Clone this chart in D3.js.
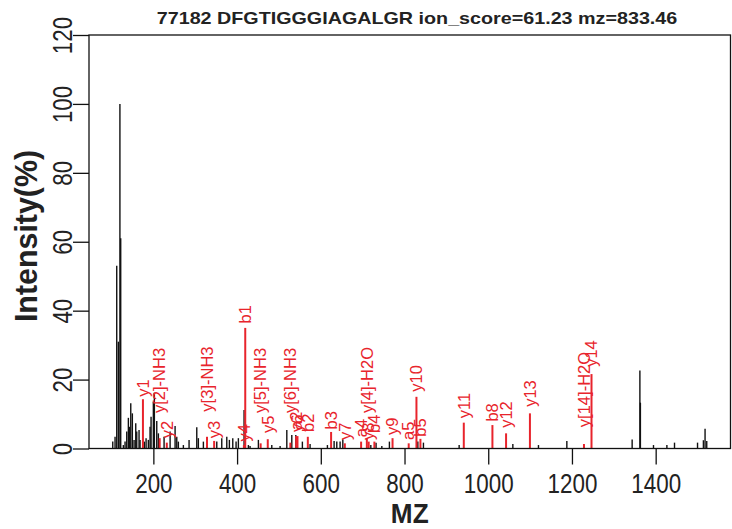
<!DOCTYPE html>
<html><head><meta charset="utf-8">
<script src="https://cdn.jsdelivr.net/npm/d3@7/dist/d3.min.js"></script>
<style>body{margin:0;background:#fff}svg{display:block}</style>
</head><body>
<svg id="chart" width="732" height="529"></svg>
<script>
// ---------- data ----------
const chartTitle = "77182 DFGTIGGGIAGALGR ion_score=61.23 mz=833.46";
const xTitle = "MZ";
const yTitle = "Intensity(%)";
const xTickValues = [200, 400, 600, 800, 1000, 1200, 1400];
const yTickValues = [0, 20, 40, 60, 80, 100, 120];

// unmatched peaks (black)
const peakMz = [103, 108.5, 112.5, 116.4, 120.1, 122.0, 128.3, 132.4, 136.4, 140.3, 142.7, 146.0, 149.8,
  153.9, 157.9, 160.3, 165.8, 168.2, 178.5, 182.6, 188.0, 192.1, 194.5, 200.0, 202.4, 208.1, 212.0,
  225.6, 240.0, 251.9, 255.9, 259.7, 271.7, 285.3, 303.7, 307.5, 319.5, 351.5, 363.4, 375.4, 381.6,
  389.7, 397.6, 403.1, 416.7, 427.0, 431.0, 450.9, 482.9, 502.8, 518.8, 530.7, 540.3, 556.0, 574.4,
  615.8, 631.8, 638.2, 646.1, 652.6, 719.5, 732.0, 745.8, 763.9, 831.8, 845.2, 930.5, 1058.8, 1120.0,
  1187.8, 1343.8, 1362.3, 1363.5, 1394.8, 1426.8, 1445.0, 1500.0, 1514.0, 1518.0, 1522.0];
const peakIntensity = [2.0, 3.4, 53, 31, 100, 61, 1.0, 2.0, 4.9, 8.9, 6.3, 13.1, 10.2,
  2.5, 7.3, 4.9, 5.4, 2.5, 2.0, 3.0, 2.5, 6.3, 9.2, 13.6, 16.2, 8.0, 4.4,
  3.4, 4.9, 6.5, 3.4, 2.0, 1.0, 2.5, 6.2, 3.0, 2.0, 2.0, 3.0, 3.4, 2.5,
  3.0, 2.0, 3.0, 11.2, 1.0, 0.7, 2.5, 1.0, 0.7, 5.4, 3.9, 3.9, 2.0, 1.3,
  1.0, 2.2, 2.0, 2.0, 2.7, 1.0, 1.7, 0.7, 2.0, 2.0, 1.7, 1.0, 1.3, 1.0,
  2.2, 2.6, 22.6, 13.3, 1.0, 1.0, 1.7, 1.7, 2.4, 5.7, 2.2];

// matched ions (red)
const ionLabel = ["y1", "y[2]-NH3", "y2", "y[3]-NH3", "y3", "b1", "y4", "y[5]-NH3", "y5", "y[6]-NH3",
  "y6", "a2", "b2", "b3", "y7", "a4", "y[4]-H2O", "y8", "b4", "y9", "a5", "y10", "b5", "y11", "b8",
  "y12", "y13", "y[14]-H2O", "y14"];
const ionMz = [175.1, 215.1, 232.1, 328.2, 345.2, 419.5, 416.3, 456.3, 473.3, 527.3,
  544.3, 541.0, 569.0, 624.6, 657.4, 696.3, 710.0, 714.4, 728.0, 771.4, 810.0, 828.5, 838.0, 941.6, 1010.0,
  1042.6, 1099.6, 1228.7, 1246.7];
const ionIntensity = [14.3, 3.0, 1.7, 3.4, 2.2, 35.0, 1.0, 1.5, 2.7, 1.7,
  3.6, 3.6, 3.4, 4.8, 1.5, 2.0, 3.0, 2.0, 2.0, 3.0, 1.5, 15.0, 2.8, 7.5, 6.8,
  4.4, 10.2, 1.3, 21.6];
// intensity level at which each label starts
const ionLabelAt = [15.0, 10.3, 3.0, 10.7, 3.0, 36.3, 2.0, 10.3, 4.5, 10.3,
  4.8, 5.4, 4.8, 5.5, 2.5, 3.3, 10.3, 2.5, 4.5, 3.9, 2.5, 16.5, 3.4, 8.8, 7.8,
  6.0, 12.1, 6.2, 23.7];

// ---------- layout ----------
const W = 732, H = 529;
const plot = {left: 89, right: 730.5, top: 35, bottom: 448.5};
const FONT = "'Liberation Sans', Arial, Helvetica, sans-serif";
const RED = "#e8242c";

const allMz = peakMz.concat(ionMz);
const mzMin = d3.min(allMz), mzMax = d3.max(allMz);
const pad = (mzMax - mzMin) * 0.04;
const x = d3.scaleLinear().domain([mzMin - pad, mzMax + pad]).range([plot.left, plot.right]);
const y = d3.scaleLinear().domain([0, 120]).range([plot.bottom, plot.top]);

const svg = d3.select("#chart");
svg.append("rect").attr("width", W).attr("height", H).attr("fill", "#fff");

// black peaks
const blackPeaks = peakMz.map((m, i) => ({mz: m, v: peakIntensity[i]}));
svg.append("g").selectAll("line").data(blackPeaks).join("line")
  .attr("x1", d => x(d.mz)).attr("x2", d => x(d.mz))
  .attr("y1", y(0)).attr("y2", d => y(d.v))
  .attr("stroke", "#111").attr("stroke-width", 1.4);

// red peaks
const ions = ionMz.map((m, i) => ({mz: m, v: ionIntensity[i], label: ionLabel[i], at: ionLabelAt[i]}));
svg.append("g").selectAll("line").data(ions).join("line")
  .attr("x1", d => x(d.mz)).attr("x2", d => x(d.mz))
  .attr("y1", y(0)).attr("y2", d => y(d.v))
  .attr("stroke", RED).attr("stroke-width", 2);

svg.append("g").selectAll("text").data(ions).join("text")
  .attr("transform", d => `translate(${x(d.mz)},${y(d.at)}) rotate(-90)`)
  .attr("dy", "0.35em")
  .attr("text-anchor", "start")
  .attr("font-family", FONT).attr("font-size", 16.5)
  .attr("fill", RED)
  .text(d => d.label);

// axes
const xAxis = svg.append("g").attr("transform", `translate(0,${plot.bottom})`)
  .call(d3.axisBottom(x).tickValues(xTickValues).tickFormat(d3.format("d")).tickSize(16).tickSizeOuter(0));
const yAxis = svg.append("g").attr("transform", `translate(${plot.left},0)`)
  .call(d3.axisLeft(y).tickValues(yTickValues).tickFormat(d3.format("d")).tickSize(16).tickSizeOuter(0));
[xAxis, yAxis].forEach(g => {
  g.select(".domain").remove();
  g.selectAll(".tick line").attr("stroke", "#111").attr("stroke-width", 1.3);
});
xAxis.selectAll(".tick text")
  .attr("y", null).attr("dy", null)
  .attr("transform", "translate(0,44) scale(0.8,1)")
  .attr("font-family", FONT).attr("font-size", 28).attr("fill", "#222");
yAxis.selectAll(".tick text")
  .attr("x", null).attr("dy", null)
  .attr("text-anchor", "middle")
  .attr("transform", "translate(-17,0) rotate(-90) scale(0.8,1)")
  .attr("font-family", FONT).attr("font-size", 28).attr("fill", "#222");

// box
svg.append("rect")
  .attr("x", plot.left).attr("y", plot.top)
  .attr("width", plot.right - plot.left).attr("height", plot.bottom - plot.top)
  .attr("fill", "none").attr("stroke", "#111").attr("stroke-width", 1.3);

// titles
svg.append("text")
  .attr("transform", `translate(417,24) scale(1.16,1)`)
  .attr("text-anchor", "middle")
  .attr("font-family", FONT).attr("font-weight", "bold").attr("font-size", 17)
  .attr("fill", "#222").text(chartTitle);

svg.append("text")
  .attr("transform", `translate(${(plot.left + plot.right) / 2},523) scale(0.97,1)`)
  .attr("text-anchor", "middle")
  .attr("font-family", FONT).attr("font-weight", "bold").attr("font-size", 27)
  .attr("fill", "#222").text(xTitle);

svg.append("text")
  .attr("transform", `translate(37,236) rotate(-90) scale(0.95,1)`)
  .attr("text-anchor", "middle")
  .attr("font-family", FONT).attr("font-weight", "bold").attr("font-size", 32)
  .attr("fill", "#222").text(yTitle);
</script>
</body></html>
